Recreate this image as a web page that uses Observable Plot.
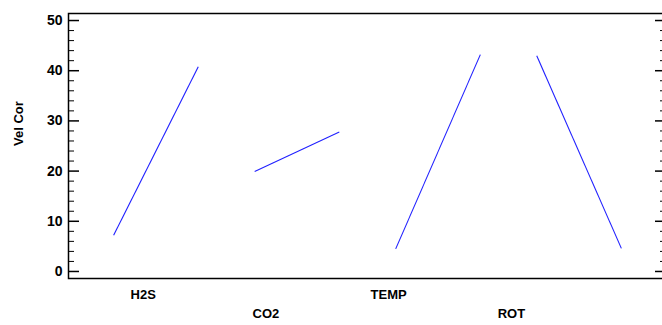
<!DOCTYPE html>
<html>
<head>
<meta charset="utf-8">
<script src="https://cdn.jsdelivr.net/npm/d3@7"></script>
<script src="https://cdn.jsdelivr.net/npm/@observablehq/plot@0.6"></script>
<style>
  html, body { margin: 0; padding: 0; overflow: hidden; background: #fff; }
  #chart svg { max-width: none !important; display: block; }
</style>
</head>
<body>
<div id="chart"></div>
<script>
// Factors and their low / high mean responses (main effects)
const factors = ["H2S", "CO2", "TEMP", "ROT"];
const lowValues = [7.2, 19.9, 4.5, 43.0];
const highValues = [40.8, 27.8, 43.2, 4.6];
const yLabel = "Vel Cor";
const majorTicks = [0, 10, 20, 30, 40, 50];
const minorTicks = d3.range(0, 51, 2).filter(v => v % 10 !== 0);

const segments = factors.map((f, i) => ({
  factor: f, i,
  x1: i - 0.3, x2: i + 0.3,
  y1: lowValues[i], y2: highValues[i]
}));
const labels = factors.map((f, i) => ({factor: f, i, pos: i * 0.87 - 0.09}));

const W = 670, H = 325;
const mL = 68, mR = 4, mT = 13, mB = 47;
const fw = W - mL - mR;

const plot = Plot.plot({
  width: W,
  height: H,
  marginLeft: mL,
  marginRight: mR,
  marginTop: mT,
  marginBottom: mB,
  style: {fontFamily: "'Liberation Sans', Arial, sans-serif", fontSize: "13px", fontWeight: "bold", color: "#000", background: "#fff", maxWidth: "none"},
  x: {domain: [-0.62, 3.62], axis: null},
  y: {domain: [-1.4, 51.4]},
  marks: [
    Plot.frame({stroke: "#000", strokeWidth: 1.5}),
    Plot.axisY(majorTicks, {tickSize: 0, tickPadding: 6, label: null, fontWeight: "bold", fontSize: 14}),
    Plot.ruleY(majorTicks, {stroke: "#000", strokeWidth: 1.5, insetRight: fw - 11}),
    Plot.ruleY(minorTicks, {stroke: "#000", strokeWidth: 1, insetRight: fw - 6}),
    Plot.ruleY(majorTicks, {stroke: "#000", strokeWidth: 1.5, insetLeft: fw - 11}),
    Plot.ruleY(minorTicks, {stroke: "#000", strokeWidth: 1, insetLeft: fw - 6}),
    Plot.text([yLabel], {text: d => d, frameAnchor: "left", dx: -50, rotate: -90, fontWeight: "bold", fontSize: 13}),
    Plot.link(segments, {x1: "x1", x2: "x2", y1: "y1", y2: "y2", stroke: "#2020ff", strokeWidth: 1.1}),
    Plot.text(labels.filter(d => d.i % 2 === 0), {x: "pos", text: "factor", frameAnchor: "bottom", dy: 20, fontWeight: "bold", fontSize: 13}),
    Plot.text(labels.filter(d => d.i % 2 === 1), {x: "pos", text: "factor", frameAnchor: "bottom", dy: 39, fontWeight: "bold", fontSize: 13})
  ]
});
document.getElementById("chart").appendChild(plot);
</script>
</body>
</html>
